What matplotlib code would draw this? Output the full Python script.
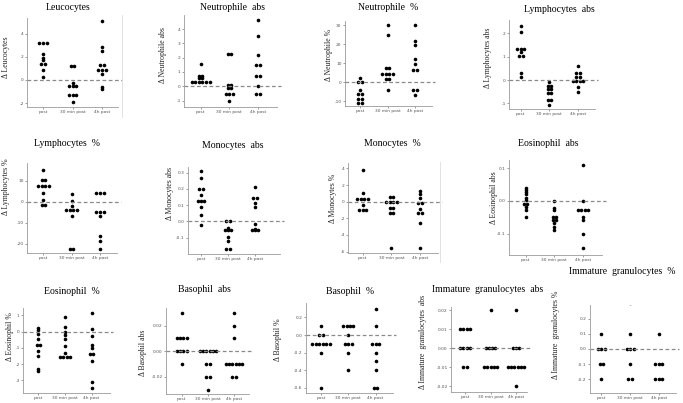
import matplotlib
matplotlib.use("Agg")
import matplotlib.pyplot as plt
from matplotlib.lines import Line2D
from collections import Counter

W, H = 683, 403
fig = plt.figure(figsize=(W / 100, H / 100), dpi=100)

groups = ["post", "30 min post", "4h post"]

# ---------------- data ----------------
leuco_post = [3.2, 3.2, 3.2, 2.25, 1.85, 1.7, 1.4, 1.4, 0.85, 0.25]
leuco_30 = [1.2, 1.2, -0.3, -0.5, -0.5, -0.5, -1.3, -1.3, -1.3, -1.9]
leuco_4h = [5.1, 2.8, 2.5, 1.3, 1.3, 0.9, 0.9, 0.9, 0.55, -0.6, -0.75]

neuabs_post = [1.55, 0.72, 0.72, 0.58, 0.58, 0.3, 0.3, 0.3, 0.3, 0.3, 0.3]
neuabs_30 = [2.25, 2.25, 0.08, 0.08, -0.14, -0.14, -0.56, -0.56, -0.56, -1.0]
neuabs_4h = [4.6, 3.5, 2.2, 1.5, 1.5, 0.7, 0.7, 0.05, -0.55, -0.55]

neupct_post = [2.0, 0.0, 0.0, -4.0, -6.3, -6.3, -8.5, -8.5, -11.0, -11.0]
neupct_30 = [30.0, 25.0, 7.3, 7.3, 4.4, 4.4, 4.4, 4.4, 1.9, 1.9, -4.2]
neupct_4h = [30.0, 21.7, 19.6, 12.1, 9.4, 6.5, 6.5, -4.0, -4.0, -6.5]

lymabs_post = [2.33, 2.04, 1.33, 1.33, 1.33, 1.19, 1.03, 1.03, 0.29, 0.11]
lymabs_30 = [-0.09, -0.27, -0.27, -0.37, -0.37, -0.57, -0.57, -0.86, -0.86, -1.09]
lymabs_4h = [0.61, 0.29, 0.29, 0.13, 0.13, -0.03, -0.03, -0.03, -0.03, -0.3, -0.51]

lympct_post = [15.1, 10.3, 10.3, 7.6, 7.6, 7.6, 7.6, 4.0, 0.6, -1.6, -1.6]
lympct_30 = [3.7, 0.3, -2.0, -4.0, -4.0, -4.0, -4.0, -6.7, -22.5, -22.5]
lympct_4h = [4.3, 4.3, 4.3, -4.9, -4.9, -4.9, -7.0, -16.3, -18.7, -22.4]

monabs_post = [0.312, 0.27, 0.2, 0.2, 0.16, 0.127, 0.127, 0.127, 0.09, 0.04, -0.023]
monabs_30 = [0.0, 0.0, -0.042, -0.052, -0.052, -0.052, -0.094, -0.123, -0.168, -0.168]
monabs_4h = [0.21, 0.142, 0.142, 0.115, 0.088, -0.014, -0.047, -0.055, -0.055, -0.055]

monpct_post = [3.84, 1.0, 0.32, 0.32, 0.32, 0.32, -0.4, -1.0, -1.0, -1.0]
monpct_30 = [0.52, 0.52, -0.08, -0.08, -0.08, -0.08, -0.76, -0.76, -1.4, -1.4, -5.6]
monpct_4h = [1.28, 0.92, 0.44, -0.12, -0.12, -0.88, -1.4, -1.4, -2.6, -5.6]

eosabs_post = [0.041, 0.034, 0.027, 0.02, 0.01, 0.003, -0.009, -0.009, -0.019, -0.028, -0.05]
eosabs_30 = [0.0, -0.02, -0.029, -0.048, -0.048, -0.058, -0.058, -0.069, -0.08, -0.089]
eosabs_4h = [0.11, 0.0, -0.029, -0.029, -0.029, -0.029, -0.05, -0.058, -0.1, -0.146]

eospct_post = [0.25, 0.08, -0.14, -0.43, -0.82, -0.82, -1.2, -1.48, -2.27, -2.43]
eospct_30 = [0.93, 0.31, 0.0, -0.23, -0.47, -0.87, -1.3, -1.55, -1.55, -1.55, -1.55]
eospct_4h = [1.13, 0.14, -0.27, -0.82, -0.99, -1.4, -1.4, -1.8, -3.1, -3.5]

basabs_post = [0.03, 0.01, 0.01, 0.01, 0.01, 0.0, 0.0, 0.0, 0.0, -0.01]
basabs_30 = [0.0, 0.0, 0.0, 0.0, 0.0, 0.0, -0.01, -0.01, -0.02, -0.02, -0.03]
basabs_4h = [0.03, 0.02, 0.01, -0.01, -0.01, -0.01, -0.01, -0.01, -0.01, -0.02, -0.02]

baspct_post = [0.1, 0.0, 0.0, -0.1, -0.1, -0.1, -0.1, -0.1, -0.1, -0.2, -0.6]
baspct_30 = [0.1, 0.1, 0.1, 0.1, 0.0, -0.1, -0.1, -0.1, -0.2, -0.4]
baspct_4h = [0.3, 0.1, -0.1, -0.1, -0.1, -0.2, -0.3, -0.4, -0.6, -0.6]

igabs_post = [0.01, 0.01, 0.01, 0.01, 0.0, 0.0, 0.0, 0.0, -0.01, -0.01]
igabs_30 = [0.02, 0.0, 0.0, 0.0, 0.0, -0.01, -0.01, -0.01, -0.01, -0.01]
igabs_4h = [0.02, 0.0, 0.0, 0.0, -0.01, -0.01, -0.01, -0.01, -0.01, -0.01, -0.02]

igpct_post = [0.1, 0.0, 0.0, 0.0, -0.1, -0.1, -0.2, -0.3]
igpct_30 = [0.3, 0.1, 0.0, 0.0, 0.0, -0.1, -0.2, -0.2, -0.3]
igpct_4h = [0.1, -0.1, -0.1, -0.1, -0.2, -0.2, -0.2, -0.3]

titles = ["Leucocytes", "Neutrophile  abs", "Neutrophile  %", "Lymphocytes  abs",
          "Lymphocytes  %", "Monocytes  abs", "Monocytes  %", "Eosinophil  abs",
          "Eosinophil  %", "Basophil  abs", "Basophil  %",
          "Immature  granulocytes  abs", "Immature  granulocytes  %"]
ylabels = ["Δ Leucocytes", "Δ Neutrophile abs", "Δ Neutrophile %", "Δ Lymphocytes abs",
           "Δ Lymphocytes %", "Δ Monocytes abs", "Δ Monocytes %", "Δ Eosinophil abs",
           "Δ Eosinophil %", "Δ Basophil abs", "Δ Basophil %",
           "Δ Immature  granulocytes  abs", "Δ Immature  granulocytes %"]
series = [
    (leuco_post, leuco_30, leuco_4h),
    (neuabs_post, neuabs_30, neuabs_4h),
    (neupct_post, neupct_30, neupct_4h),
    (lymabs_post, lymabs_30, lymabs_4h),
    (lympct_post, lympct_30, lympct_4h),
    (monabs_post, monabs_30, monabs_4h),
    (monpct_post, monpct_30, monpct_4h),
    (eosabs_post, eosabs_30, eosabs_4h),
    (eospct_post, eospct_30, eospct_4h),
    (basabs_post, basabs_30, basabs_4h),
    (baspct_post, baspct_30, baspct_4h),
    (igabs_post, igabs_30, igabs_4h),
    (igpct_post, igpct_30, igpct_4h),
]
yticks = [
    [4, 2, 0, -2],
    [4, 3, 2, 1, 0, -1],
    [30, 20, 10, 0, -10],
    [2, 1, 0, -1],
    [10, 0, -10, -20],
    [0.3, 0.2, 0.1, 0.0, -0.1],
    [4, 2, 0, -2, -4, -6],
    [0.1, 0.0, -0.1],
    [1, 0, -1, -2, -3],
    [0.02, 0.0, -0.02],
    [0.2, 0.0, -0.2, -0.4, -0.6],
    [0.02, 0.01, 0.0, -0.01, -0.02],
    [0.2, 0.1, 0.0, -0.1, -0.2],
]
yticklabels = [
    ["4", "2", "0", "-2"],
    ["4", "3", "2", "1", "0", "-1"],
    ["30", "20", "10", "0", "-10"],
    ["2", "1", "0", "-1"],
    ["10", "0", "-10", "-20"],
    ["0.3", "0.2", "0.1", "0.0", "-0.1"],
    ["4", "2", "0", "-2", "-4", "-6"],
    ["0.1", "0.0", "-0.1"],
    ["1", "0", "-1", "-2", "-3"],
    ["0.02", "0.00", "-0.02"],
    ["0.2", "0.0", "-0.2", "-0.4", "-0.6"],
    ["0.02", "0.01", "0.00", "-0.01", "-0.02"],
    ["0.2", "0.1", "0.0", "-0.1", "-0.2"],
]

# ---------------- layout (pixels) ----------------
boxes = [
    (27, 18, 118, 107), (184, 15, 277, 107), (345, 21, 432, 106), (509, 20, 595, 109),
    (27, 163, 117, 253), (188, 167, 280, 254), (348, 163, 438, 253), (509, 160, 602, 255),
    (23, 308, 110, 393), (166, 308, 249, 394), (306, 303, 393, 393), (451, 307, 527, 392),
    (590, 305, 676, 393),
]
xlims = [
    (-0.55, 2.55), (-0.58, 2.66), (-0.55, 2.62), (-0.41, 2.6),
    (-0.58, 2.6), (-0.48, 2.92), (-0.51, 2.62), (-0.58, 2.66),
    (-0.57, 2.69), (-0.6, 2.57), (-0.55, 2.64), (-0.55, 2.43),
    (-0.4, 2.6),
]
ylims = [
    (-2.33, 5.34), (-1.45, 4.98), (-12.4, 32.1), (-1.24, 2.57),
    (-24.4, 18.4), (-0.2, 0.335), (-6.16, 4.64), (-0.166, 0.126),
    (-3.78, 1.46), (-0.0334, 0.0338), (-0.66, 0.365), (-0.023, 0.0217),
    (-0.29, 0.29),
]
title_pos = [
    (68, 7), (232, 8), (388, 8), (559, 9),
    (67, 144), (233, 146), (392, 144), (548, 144),
    (72, 292), (204, 290), (350, 291), (488, 289),
    (622, 272),
]
ylabel_pos = [
    (6, 57), (163, 55), (329, 55), (488, 58),
    (6, 187), (170, 193), (333, 198), (494, 198),
    (10, 337), (143, 353), (278, 340), (423, 342),
    (556, 335),
]

serif = ["Liberation Serif", "DejaVu Serif"]
grey = "#9a9a9a"
step = 0.125


def spread(vals):
    counts = Counter(vals)
    seen = {}
    offs = []
    for v in vals:
        n = counts[v]
        k = seen.get(v, 0)
        seen[v] = k + 1
        offs.append((k - (n - 1) / 2) * step)
    return offs


for i in range(13):
    l, t, r, b = boxes[i]
    ax = fig.add_axes([l / W, 1 - b / H, (r - l) / W, (b - t) / H])
    for gi, vals in enumerate(series[i]):
        offs = spread(vals)
        ax.plot([gi + o for o in offs], vals, "o", color="black", ms=2.6, mec="black", mew=0)
    ax.axhline(0, color="#8a8a8a", lw=0.9, ls=(0, (3, 2)), clip_on=False, xmax=1.04)
    ax.set_xlim(*xlims[i])
    ax.set_ylim(*ylims[i])
    ax.set_xticks([0, 1, 2])
    ax.set_xticklabels(groups)
    ax.set_yticks(yticks[i])
    ax.set_yticklabels(yticklabels[i])
    ax.tick_params(labelsize=3.2, colors="#555555", length=1.2, width=0.4, pad=1.2)
    for s in ("top", "right"):
        ax.spines[s].set_visible(False)
    for s in ("left", "bottom"):
        ax.spines[s].set_color(grey)
        ax.spines[s].set_linewidth(0.6)
    tx, ty = title_pos[i]
    fig.text(tx / W, 1 - ty / H, titles[i], ha="center", va="center",
             fontsize=7, family=serif, color="black")
    lx, ly = ylabel_pos[i]
    fig.text(lx / W, 1 - ly / H, ylabels[i], ha="center", va="center", rotation=90,
             fontsize=5.6, family=serif, color="#222222")

# faint panel border lines
for (x, y0, y1) in [(122, 15, 117), (440, 162, 262)]:
    fig.add_artist(Line2D([x / W, x / W], [1 - y0 / H, 1 - y1 / H], color="#dddddd", lw=0.6))

fig.savefig("out.png", dpi=100)
